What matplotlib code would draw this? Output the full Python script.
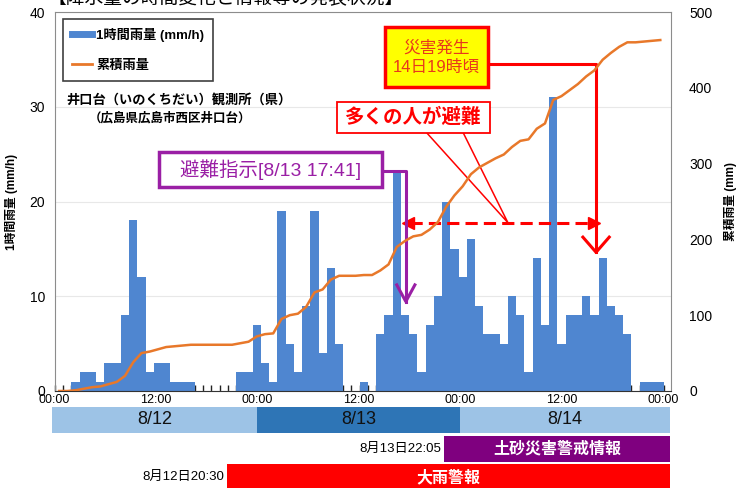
import matplotlib.pyplot as plt
from matplotlib.lines import Line2D
from matplotlib.patches import Rectangle
import numpy as np

plt.rcParams['font.family'] = ['Liberation Sans', 'Noto Sans CJK JP']

# hourly rainfall (mm/h), one value per hour slot
hours = list(range(74))
rain_1h = [0, 0, 1, 2, 2, 1, 3, 3, 8, 18, 12, 2, 3, 3, 1, 1, 1,
           0, 0, 0, 0, 0,
           2, 2, 7, 3, 1, 19, 5, 2, 9, 19, 4, 13, 5, 0, 0, 1, 0,
           6, 8, 23, 8, 6, 2, 7, 10, 20, 15, 12, 16, 9, 6, 6, 5, 10, 8, 2, 14, 7,
           31, 5, 8, 8, 10, 8, 14, 9, 8, 6, 0, 1, 1, 1]
# cumulative rainfall (mm)
rain_total = [0, 0, 1, 3, 5, 6, 9, 12, 20, 38, 50, 52, 55, 58, 59, 60, 61,
              61, 61, 61, 61, 61,
              63, 65, 72, 75, 76, 95, 100, 102, 111, 130, 134, 147, 152, 152, 152, 153, 153,
              159, 167, 190, 198, 204, 206, 213, 223, 243, 258, 270, 286, 295, 301, 307, 312,
              322, 330, 332, 346, 353,
              384, 389, 397, 405, 415, 423, 437, 446, 454, 460, 460, 461, 462, 463]

time_ticks = [0, 12, 24, 36, 48, 60, 72]
time_labels = ['00:00', '12:00', '00:00', '12:00', '00:00', '12:00', '00:00']
days = ['8/12', '8/13', '8/14']
day_start = [0, 24, 48]
day_colors = ['#9dc3e6', '#2e75b6', '#9dc3e6']
warnings = ['大雨警報', '土砂災害警戒情報']
warn_start = [20.5, 46.08]
warn_issued = ['8月12日20:30', '8月13日22:05']
warn_colors = ['#ff0000', '#7f007f']

W, H = 741, 488
blue = '#4f86d0'
orange = '#e8782a'
purple = '#9a1fa5'
red = '#ff0000'

fig = plt.figure(figsize=(W / 100, H / 100), dpi=100)
fig.text(48 / W, 1 + 1 / H, '【降水量の時間変化と情報等の発表状況】', fontsize=13.5,
         ha='left', va='center')

ax = fig.add_axes([55 / W, 1 - 391 / H, 616 / W, 379 / H])
ax.bar(hours, rain_1h, width=1.0, color=blue, zorder=2)
ax.set_xlim(-0.4, 74.3)
ax.set_ylim(0, 40)
ax.set_yticks([0, 10, 20, 30, 40])
ax.grid(axis='y', color='#e8e8e8', lw=0.8)
ax.set_axisbelow(True)
ax.set_xticks([])
ax.set_xticks(np.arange(-0.5, 74, 1), minor=True)
ax.tick_params(axis='x', which='minor', direction='in', length=4, color='#222', width=1)
ax.tick_params(axis='y', length=0, labelsize=10, pad=7)
ax.set_ylabel('1時間雨量 (mm/h)', fontsize=8.5, fontweight='bold')
ax.yaxis.set_label_coords(-(55 - 18) / 616, 0.5)
for side in ['left', 'top', 'right']:
    ax.spines[side].set_color('#8c8c8c')
ax.spines['bottom'].set_color('#333')

ax2 = ax.twinx()
ax2.plot(hours, rain_total, color=orange, lw=1.8, zorder=3)
ax2.set_ylim(0, 500)
ax2.set_yticks([0, 100, 200, 300, 400, 500])
ax2.tick_params(axis='y', length=0, labelsize=10, pad=13)
ax2.set_ylabel('累積雨量 (mm)', fontsize=8.5, fontweight='bold')
ax2.yaxis.set_label_coords((724 - 55) / 616, 0.5)
for s in ax2.spines.values():
    s.set_visible(False)

handles = [Line2D([], [], color=blue, lw=5), Line2D([], [], color=orange, lw=2)]
leg = ax2.legend(handles, ['1時間雨量 (mm/h)', '累積雨量'], loc='upper left',
                 bbox_to_anchor=(0.013, 0.982), borderaxespad=0,
                 prop={'size': 9.5, 'weight': 'bold'}, labelspacing=1.35,
                 handlelength=1.5, handletextpad=0.3, borderpad=0.7,
                 fancybox=False, framealpha=1)
leg.get_frame().set_edgecolor('#404040')
leg.get_frame().set_linewidth(1.2)

ax2.text(0.018, 0.768, '井口台（いのくちだい）観測所（県）', transform=ax2.transAxes,
         fontsize=9.5, fontweight='bold', va='center')
ax2.text(0.054, 0.72, '（広島県広島市西区井口台）', transform=ax2.transAxes,
         fontsize=9, fontweight='bold', va='center')

# disaster occurrence box and arrow
ax2.add_patch(Rectangle((39.6, 401), 12.5, 79, fc='#ffff00', ec=red, lw=2.5, zorder=5))
ax2.text(45.85, 440.5, '災害発生\n14日19時頃', ha='center', va='center', color='#e8381c',
         fontsize=12, linespacing=1.35, zorder=6)
ax2.plot([52.1, 65.2, 65.2], [431, 431, 183], color=red, lw=2.2)
ax2.plot([63.6, 65.2, 66.8], [203, 183, 203], color=red, lw=2.2)

# many people evacuated
ax2.add_patch(Rectangle((33.8, 340.5), 18.5, 41, fc='white', ec=red, lw=1.3, zorder=5))
ax2.text(43.05, 361, '多くの人が避難', ha='center', va='center', color=red,
         fontsize=14, fontweight='bold', zorder=6)
ax2.plot([44.69, 54.5, 49.1], [340, 222, 340], color=red, lw=1.1)
ax2.plot([42.6, 64.7], [222, 222], color=red, lw=2.2, dashes=(4, 2))
ax2.plot([42.4], [222], marker='<', ms=8, color=red)
ax2.plot([64.9], [222], marker='>', ms=8, color=red)

# evacuation order
ax2.add_patch(Rectangle((12.1, 269), 27.1, 46, fc='white', ec=purple, lw=2.5, zorder=5))
ax2.text(25.65, 292, '避難指示[8/13 17:41]', ha='center', va='center', color=purple,
         fontsize=14, zorder=6)
ax2.plot([39.2, 42.1, 42.1], [290, 290, 118], color=purple, lw=2.2)
ax2.plot([41.0, 42.1, 43.2], [140, 118, 140], color=purple, lw=2.2)

# bottom panel: time labels, days, warnings
bx = fig.add_axes([52 / W, 0, 618 / W, 95 / H])
xmin, xmax = -0.2, 72.8
bx.set_xlim(xmin, xmax)
bx.set_ylim(0, 95)
bx.axis('off')
for t, lab in zip(time_ticks, time_labels):
    bx.text(t, 88, lab, ha='center', va='center', fontsize=9)
edges = [xmin] + day_start[1:] + [xmax]
for i, d in enumerate(days):
    bx.barh(68, edges[i + 1] - edges[i], left=edges[i], height=26,
            color=day_colors[i])
    bx.text((edges[i] + edges[i + 1]) / 2, 68, d, ha='center', va='center',
            fontsize=13, color='#111')
warn_y = [11, 39.5]
for name, st, issued, c, y in zip(warnings, warn_start, warn_issued, warn_colors, warn_y):
    bx.barh(y, xmax - st, left=st, height=26, color=c)
    bx.text((st + xmax) / 2, y, name, ha='center', va='center', color='white',
            fontsize=11.5, fontweight='bold')
    bx.text(st - 0.3, y, issued, ha='right', va='center', fontsize=9.5)

fig.savefig('out.png', dpi=100)
